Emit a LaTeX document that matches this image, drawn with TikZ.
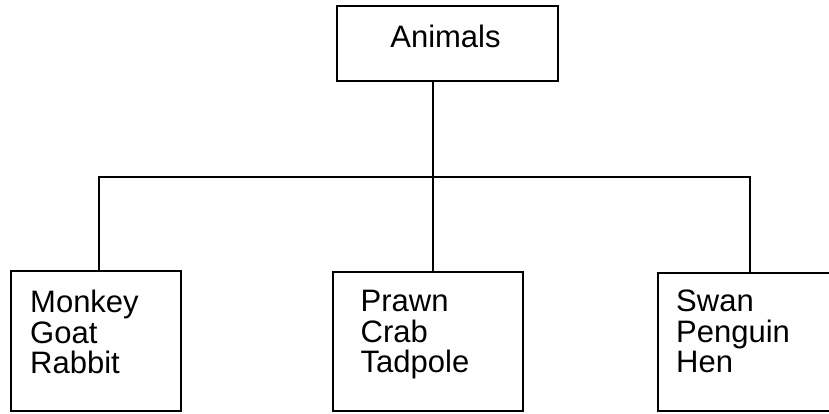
\documentclass[tikz,border=0pt]{standalone}
\usepackage{fontspec}
\setmainfont{Liberation Sans}
\begin{document}
\begin{tikzpicture}[x=1pt,y=-1pt,
  frame/.style={draw=black,line width=1.4pt,inner sep=0pt},
  label/.style={inner sep=0pt,font=\fontsize{31}{30.5}\selectfont},
  list/.style={label,align=left,anchor=north west},
  wire/.style={draw=black,line width=1.4pt}]
\useasboundingbox (0,0) rectangle (829,413);
\clip (0,0) rectangle (829,413);

% top box
\node[frame,minimum width=221pt,minimum height=75pt] (anim) at (447.5,43.5) {};
\node[label,anchor=base] (animtxt) at (445.5,47) {Animals};

% the three groups
\node[frame,minimum width=170pt,minimum height=140pt] (left)  at (96,341) {};
\node[frame,minimum width=190pt,minimum height=139pt] (mid)   at (428,341.5) {};
\node[frame,minimum width=200pt,minimum height=138pt] (right) at (758,342) {};

\node[list] (lefttxt)  at (30,290)    {Monkey\\Goat\\Rabbit};
\node[list] (midtxt)   at (360.5,290) {Prawn\\Crab\\Tadpole};
\node[list] (righttxt) at (676,290)   {Swan\\Penguin\\Hen};

% tree connectors
\coordinate (jl) at (99,177);
\coordinate (jm) at (433,177);
\coordinate (jr) at (750,177);
\draw[wire] (anim.south -| jm) -- (jm);
\draw[wire] (jl |- left.north) -- (jl) -- (jr) -- (jr |- right.north);
\draw[wire] (jm) -- (jm |- mid.north);
\end{tikzpicture}
\end{document}
